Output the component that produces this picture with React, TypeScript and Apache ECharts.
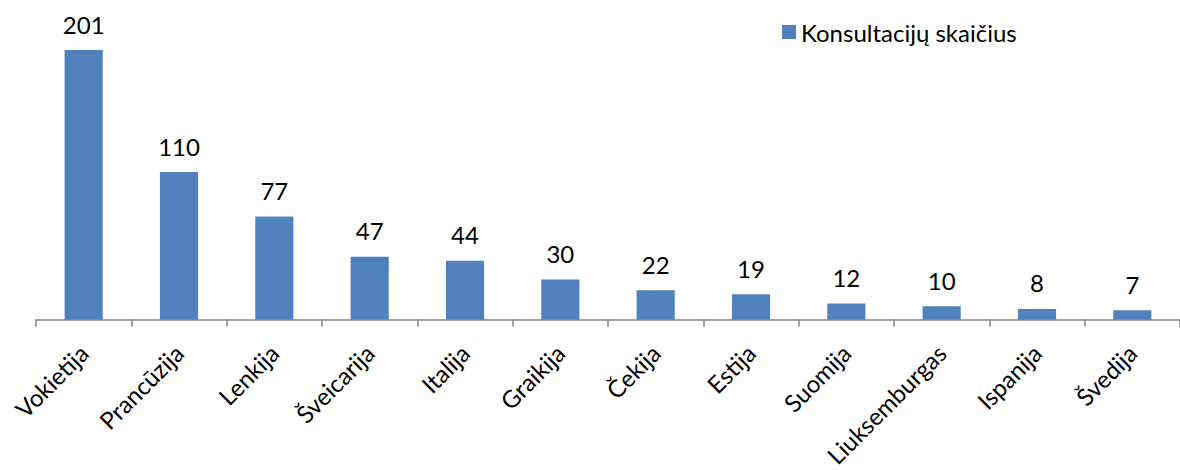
import React, { useEffect, useRef } from "react";
import * as echarts from "echarts";

const categories = ["Vokietija", "Prancūzija", "Lenkija", "Šveicarija", "Italija", "Graikija", "Čekija", "Estija", "Suomija", "Liuksemburgas", "Ispanija", "Švedija"];
const values = [201, 110, 77, 47, 44, 30, 22, 19, 12, 10, 8, 7];
const seriesName = "Konsultacijų skaičius";

export default function App() {
  const ref = useRef<HTMLDivElement>(null);
  useEffect(() => {
    document.body.style.margin = "0";
    const chart = echarts.init(ref.current!, null, { renderer: "svg" });
    const font = "Lato, 'Noto Sans', sans-serif";
    chart.setOption({
      animation: false,
      textStyle: { fontFamily: font },
      legend: {
        left: 777,
        top: 15,
        itemWidth: 14,
        itemHeight: 14,
        itemGap: 8,
        icon: "rect",
        textStyle: { fontSize: 24, color: "#000", fontFamily: font },
        data: [seriesName],
      },
      grid: { left: 36, right: -3, top: 50, bottom: 148, containLabel: false },
      xAxis: {
        type: "category",
        data: categories,
        axisLine: { lineStyle: { color: "#868686", width: 1.5 } },
        axisTick: { show: true, length: 7, alignWithLabel: false, lineStyle: { color: "#868686", width: 1.5 } },
        axisLabel: { rotate: 45, interval: 0, fontSize: 24, color: "#000", margin: 29, fontFamily: font },
      },
      yAxis: { type: "value", min: 0, max: 201, show: false, splitLine: { show: false } },
      series: [
        {
          name: seriesName,
          type: "bar",
          data: values,
          barWidth: "40%",
          itemStyle: { color: "#4F81BD" },
          label: { show: true, position: "top", distance: 14, fontSize: 24, color: "#000", fontFamily: font },
        },
      ],
    });
    return () => chart.dispose();
  }, []);
  return <div ref={ref} style={{ width: 1180, height: 470 }} />;
}
